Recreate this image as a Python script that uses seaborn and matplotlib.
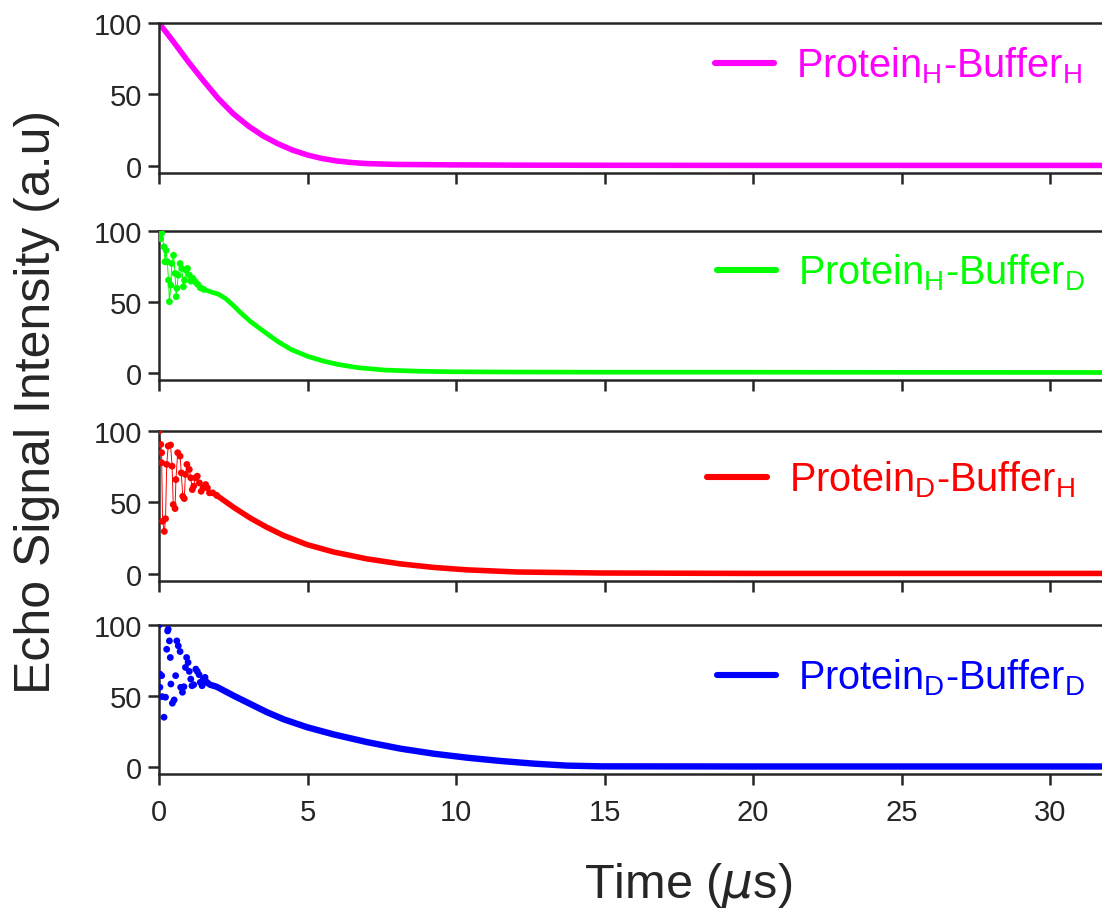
import numpy as np
import pandas as pd
import matplotlib
matplotlib.use("Agg")
import matplotlib.pyplot as plt
from matplotlib.lines import Line2D
import seaborn as sns

# ---------------- data ----------------
series_labels = [r"Protein$_\mathregular{H}$-Buffer$_\mathregular{H}$",
                 r"Protein$_\mathregular{H}$-Buffer$_\mathregular{D}$",
                 r"Protein$_\mathregular{D}$-Buffer$_\mathregular{H}$",
                 r"Protein$_\mathregular{D}$-Buffer$_\mathregular{D}$"]
series_colors = ["#FF00FF", "#00FF00", "#FF0000", "#0000FF"]

# Protein_H - Buffer_H (smooth decay)
hh_t = [0.0, 0.5, 1.0, 1.5, 2.0, 2.5, 3.0, 3.5, 4.0, 4.5, 5.0, 5.5, 6.0,
        6.5, 7.0, 8.0, 9.8, 12.0, 15.0, 20.0, 25.0, 31.8]
hh_v = [100, 86.5, 72.5, 59.5, 47.0, 36.5, 28.0, 21.0, 15.5, 11.0, 7.6, 5.1,
        3.4, 2.3, 1.6, 1.0, 0.7, 0.5, 0.4, 0.3, 0.3, 0.3]

# Protein_H - Buffer_D
hd_osc_t = [0.0, 0.03, 0.06, 0.09, 0.17, 0.20, 0.24, 0.28, 0.32, 0.35, 0.40,
            0.43, 0.49, 0.54, 0.58, 0.60, 0.65, 0.71, 0.77, 0.82, 0.86, 0.91,
            0.96, 1.02, 1.07, 1.14, 1.22, 1.30, 1.39, 1.50]
hd_osc_v = [100, 99.3, 94.6, 98.6, 88.8, 78.3, 86.4, 78.3, 65.4, 50.2, 61.9,
            77.1, 82.9, 70.1, 53.7, 59.6, 68.9, 77.1, 73.6, 60.7, 65.4, 72.4,
            73.6, 68.9, 64.7, 66.6, 64.3, 62.4, 60.0, 58.9]
hd_t = [1.50, 1.73, 2.0, 2.23, 2.52, 2.74, 3.08, 3.53, 3.98, 4.44, 5.0, 5.56,
        6.02, 6.69, 7.6, 8.72, 9.85, 12.0, 15.0, 20.0, 25.0, 31.8]
hd_v = [58.9, 57.2, 55.5, 52.6, 47.2, 42.6, 36.2, 29.2, 22.4, 16.6, 11.7, 8.2,
        6.0, 3.7, 2.0, 1.2, 0.8, 0.6, 0.5, 0.5, 0.4, 0.3]

# Protein_D - Buffer_H
dh_osc_t = [0.0, 0.06, 0.09, 0.09, 0.12, 0.18, 0.22, 0.26, 0.31, 0.39, 0.44,
            0.48, 0.54, 0.57, 0.63, 0.71, 0.75, 0.80, 0.85, 0.89, 0.94, 1.02,
            1.07, 1.12, 1.17, 1.22, 1.29, 1.36, 1.42, 1.49, 1.57, 1.63, 1.70,
            1.81, 1.94]
dh_osc_v = [100, 90.6, 84.8, 77.8, 36.8, 29.7, 38.6, 76.6, 89.5, 90.2, 75.4,
            48.5, 45.7, 66.0, 84.8, 82.4, 70.7, 54.3, 52.7, 69.6, 76.6, 73.1,
            67.2, 59.0, 61.4, 67.2, 68.4, 63.7, 57.8, 60.2, 62.5, 60.2, 56.7,
            56.7, 55.0]
dh_t = [1.94, 2.51, 3.07, 3.63, 4.19, 4.98, 5.88, 7.0, 8.12, 9.25, 10.37,
        12.06, 14.87, 20.0, 25.0, 31.8]
dh_v = [55.0, 46.6, 39.1, 32.6, 26.9, 20.5, 15.3, 10.5, 7.0, 4.5, 2.8, 1.3,
        0.6, 0.3, 0.3, 0.3]

# Protein_D - Buffer_D (early points are unconnected)
dd_osc_t = [0.0, 0.03, 0.09, 0.03, 0.11, 0.22, 0.17, 0.26, 0.29, 0.31, 0.35,
            0.38, 0.40, 0.45, 0.51, 0.56, 0.60, 0.65, 0.71, 0.73, 0.79, 0.84,
            0.89, 0.93, 0.98, 1.02, 1.07, 1.11, 1.17, 1.24, 1.29, 1.35, 1.39,
            1.45, 1.49, 1.55, 1.61]
dd_osc_v = [100, 65.4, 64.3, 56.1, 49.5, 49.1, 35.0, 82.9, 95.8, 97.0, 88.8,
            77.1, 58.4, 44.9, 47.2, 64.3, 88.8, 85.3, 81.3, 56.1, 52.6, 56.5,
            70.1, 77.1, 73.6, 67.3, 61.9, 57.2, 57.9, 68.9, 67.3, 65.0, 59.6,
            57.2, 61.9, 63.1, 59.6]
dd_t = [1.61, 1.72, 1.94, 2.51, 3.07, 3.63, 4.19, 4.98, 5.88, 7.0, 8.12,
        9.25, 10.37, 11.49, 12.62, 13.74, 14.87, 20.0, 25.0, 31.8]
dd_v = [59.6, 57.9, 56.5, 50.2, 44.4, 38.6, 33.6, 28.0, 22.9, 17.5, 12.9,
        9.3, 6.5, 4.2, 2.3, 0.9, 0.4, 0.3, 0.3, 0.3]

x_ticks = [0, 5, 10, 15, 20, 25, 30]
y_ticks = [0, 50, 100]

# ---------------- style ----------------
sns.set_theme(style="ticks")
plt.rcParams["font.family"] = ["Liberation Sans", "DejaVu Sans"]
plt.rcParams["mathtext.fontset"] = "custom"
plt.rcParams["mathtext.rm"] = "Liberation Sans"
plt.rcParams["mathtext.it"] = "DejaVu Sans:italic"
dark = "#262626"

fig = plt.figure(figsize=(11.02, 9.2), dpi=100)
left = 159 / 1102
width = 1 - left
bottoms_px = [174, 381, 582, 775]
tops_px = [24, 232, 432, 626]
legend_pos = [(0.979, 0.72), (0.982, 0.727), (0.971, 0.68), (0.982, 0.65)]

main = [(hh_t, hh_v), (hd_t, hd_v), (dh_t, dh_v), (dd_t, dd_v)]
osc = [None, (hd_osc_t, hd_osc_v), (dh_osc_t, dh_osc_v), (dd_osc_t, dd_osc_v)]
lws = [4.0, 3.4, 4.0, 4.6]

axes = []
for i in range(4):
    b = 1 - bottoms_px[i] / 920
    h = (bottoms_px[i] - tops_px[i]) / 920
    ax = fig.add_axes([left, b, width, h])
    axes.append(ax)
    col = series_colors[i]
    t, v = main[i]
    df = pd.DataFrame({"t": t, "v": v})
    sns.lineplot(data=df, x="t", y="v", ax=ax, color=col, linewidth=lws[i],
                 sort=False, estimator=None, solid_capstyle="round",
                 solid_joinstyle="round")
    if osc[i] is not None:
        ot, ov = osc[i]
        dfo = pd.DataFrame({"t": ot, "v": ov})
        if i in (1, 2):
            sns.lineplot(data=dfo, x="t", y="v", ax=ax, color=col,
                         linewidth=0.7, sort=False, estimator=None)
        sns.scatterplot(data=dfo, x="t", y="v", ax=ax, color=col, s=24,
                        edgecolor="none", zorder=3)
    ax.set_xlim(0, 31.75)
    ax.set_ylim(-5, 100)
    ax.set_xticks(x_ticks)
    ax.set_yticks(y_ticks)
    ax.set_xlabel("")
    ax.set_ylabel("")
    for s in ["left", "top", "bottom"]:
        ax.spines[s].set_linewidth(1.8)
        ax.spines[s].set_color(dark)
    ax.spines["right"].set_visible(False)
    ax.tick_params(axis="both", direction="out", length=8, width=1.8,
                   color=dark, labelcolor=dark, labelsize=21)
    ax.tick_params(axis="y", pad=4)
    ax.tick_params(axis="x", pad=9)
    if i < 3:
        ax.tick_params(axis="x", labelbottom=False)
    handle = Line2D([0], [0], color=col, linewidth=4.4)
    leg = ax.legend([handle], [series_labels[i]], loc="center right",
                    bbox_to_anchor=legend_pos[i], frameon=False,
                    borderaxespad=0, borderpad=0, handlelength=1.5,
                    handletextpad=0.55, fontsize=28.5, labelcolor=col)

fig.text(688 / 1102, 1 - 886 / 920, r"Time ($\mu$s)", fontsize=35,
         color=dark, ha="center", va="center")
fig.text(37 / 1102, 1 - 402 / 920, "Echo Signal Intensity (a.u)", fontsize=36,
         color=dark, ha="center", va="center", rotation=90)

fig.savefig("out.png", dpi=100)
